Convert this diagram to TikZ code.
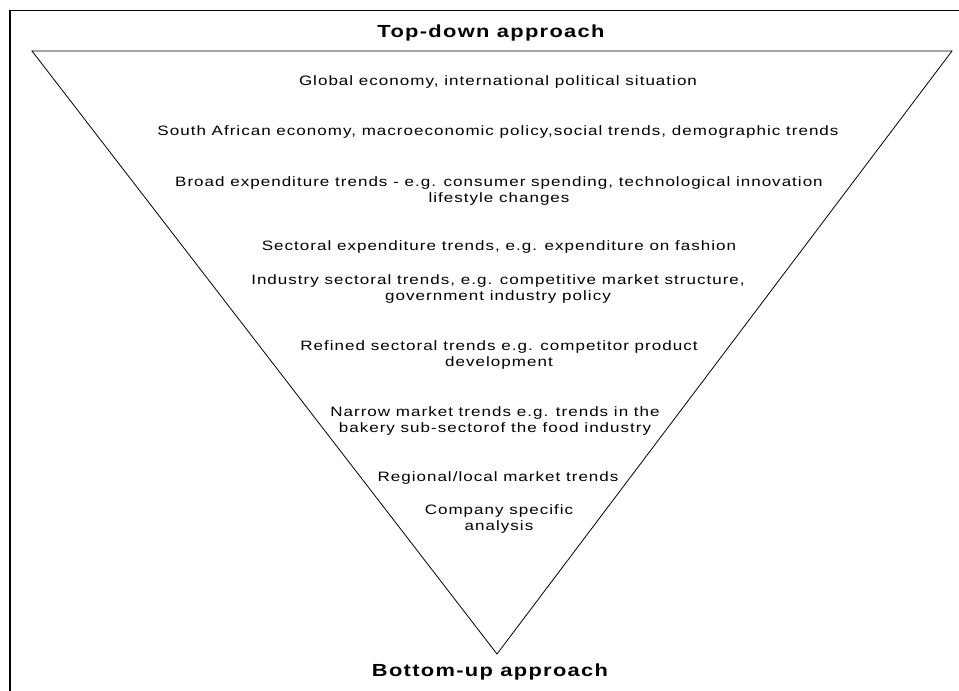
\documentclass[tikz,border=0pt]{standalone}
\usepackage{fontspec}
\setmainfont{Liberation Sans}
\newfontfamily\widesans[FakeStretch=1.25,LetterSpace=7.5]{Liberation Sans}
\begin{document}
\begin{tikzpicture}[x=1pt,y=-1pt,
  level/.style={align=center,font=\widesans\fontsize{13.6}{16}\selectfont,inner sep=0pt,anchor=north},
  heading/.style={font=\widesans\fontsize{17.5}{20}\selectfont\bfseries,inner sep=0pt},
  frame/.style={draw=black},
  funnel/.style={draw=black,line width=0.8pt,line join=miter}]
\useasboundingbox (0,0) rectangle (959,691);
% outer frame: top rule and left rule
\draw[frame,line width=1pt] (10,10) -- (959,10);
\draw[frame,line width=2pt] (10,10) -- (10,691);
% inverted triangle
\coordinate (tl) at (32,51);
\coordinate (tr) at (952,51);
\coordinate (apex) at (497,654);
\draw[funnel] (tl) -- (tr) -- (apex) -- cycle;
% headings
\node[heading] (top) at (491,33) {Top-down approach};
\node[heading] (bottom) at (490,672) {Bottom-up approach};
% levels of analysis
\node[level] (l1) at (498,75) {Global economy, international political situation};
\node[level] (l2) at (498,125) {South African economy, macroeconomic policy,social trends, demographic trends};
\node[level] (l3) at (499,176) {Broad expenditure trends - e.g. consumer spending, technological innovation\\lifestyle changes};
\node[level] (l4) at (499,240) {Sectoral expenditure trends, e.g. expenditure on fashion};
\node[level] (l5) at (498,274) {Industry sectoral trends, e.g. competitive market structure,\\government industry policy};
\node[level] (l6) at (499,340) {Refined sectoral trends e.g. competitor product\\development};
\node[level] (l7) at (495,406) {Narrow market trends e.g. trends in the\\bakery sub-sectorof the food industry};
\node[level] (l8) at (498,471) {Regional/local market trends};
\node[level] (l9) at (499,504) {Company specific\\analysis};
\end{tikzpicture}
\end{document}
